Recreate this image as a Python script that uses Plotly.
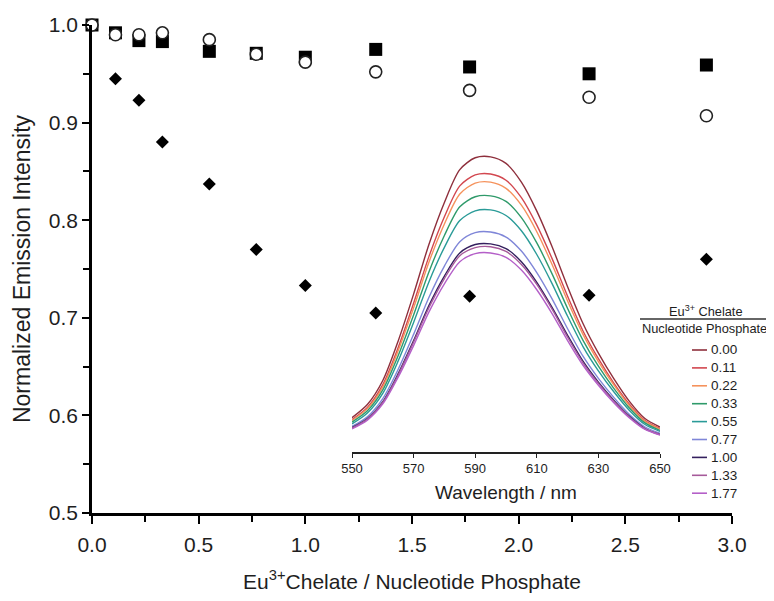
import plotly.graph_objects as go

# ---------------- main data ----------------
ratio = [0.00, 0.11, 0.22, 0.33, 0.55, 0.77, 1.00, 1.33, 1.77, 2.33, 2.88]
squares = [1.000, 0.992, 0.984, 0.983, 0.973, 0.971, 0.967, 0.975, 0.957, 0.950, 0.959]
circles = [1.000, 0.990, 0.990, 0.992, 0.985, 0.970, 0.962, 0.952, 0.933, 0.926, 0.907]
diamonds = [1.000, 0.945, 0.923, 0.880, 0.837, 0.770, 0.733, 0.705, 0.722, 0.723, 0.760]

# ---------------- inset spectra ----------------
wavelength = [550, 555, 560, 565, 570, 575, 580, 585, 590, 595, 600,
              605, 610, 615, 620, 625, 630, 635, 640, 645, 650]
spec_labels = ["0.00", "0.11", "0.22", "0.33", "0.55", "0.77", "1.00", "1.33", "1.77"]
spec_colors = ["#8e2f3c", "#d2474f", "#f5925c", "#2f9a6a", "#2a9b98",
               "#7f86d8", "#34205e", "#a65a9a", "#b45fc8"]
s000 = [0.110, 0.152, 0.229, 0.356, 0.506, 0.666, 0.800, 0.905, 0.943, 0.946, 0.925,
        0.865, 0.772, 0.657, 0.530, 0.412, 0.317, 0.235, 0.163, 0.108, 0.080]
s011 = [0.104, 0.143, 0.216, 0.335, 0.477, 0.627, 0.754, 0.853, 0.888, 0.891, 0.871,
        0.815, 0.727, 0.619, 0.499, 0.388, 0.299, 0.221, 0.154, 0.102, 0.075]
s022 = [0.101, 0.139, 0.209, 0.325, 0.462, 0.609, 0.731, 0.827, 0.862, 0.865, 0.845,
        0.791, 0.706, 0.600, 0.484, 0.377, 0.290, 0.215, 0.149, 0.099, 0.073]
s033 = [0.096, 0.132, 0.199, 0.309, 0.439, 0.578, 0.694, 0.786, 0.818, 0.821, 0.803,
        0.751, 0.670, 0.570, 0.460, 0.358, 0.275, 0.204, 0.142, 0.094, 0.069]
s055 = [0.090, 0.125, 0.188, 0.292, 0.415, 0.546, 0.656, 0.742, 0.773, 0.776, 0.758,
        0.709, 0.633, 0.539, 0.435, 0.338, 0.260, 0.193, 0.134, 0.089, 0.066]
s077 = [0.082, 0.113, 0.171, 0.265, 0.377, 0.496, 0.596, 0.674, 0.703, 0.705, 0.689,
        0.644, 0.575, 0.490, 0.395, 0.307, 0.236, 0.175, 0.121, 0.081, 0.060]
s100 = [0.078, 0.107, 0.161, 0.251, 0.357, 0.470, 0.564, 0.638, 0.665, 0.667, 0.652,
        0.610, 0.544, 0.463, 0.374, 0.291, 0.224, 0.166, 0.115, 0.076, 0.056]
s133 = [0.077, 0.106, 0.159, 0.247, 0.352, 0.463, 0.556, 0.629, 0.655, 0.658, 0.643,
        0.601, 0.537, 0.457, 0.368, 0.286, 0.220, 0.163, 0.113, 0.075, 0.056]
s177 = [0.074, 0.102, 0.154, 0.240, 0.341, 0.449, 0.539, 0.610, 0.636, 0.638, 0.624,
        0.583, 0.520, 0.443, 0.357, 0.278, 0.214, 0.158, 0.110, 0.073, 0.054]
spectra = [s000, s011, s022, s033, s055, s077, s100, s133, s177]

FONT = "Liberation Sans, Arial, sans-serif"
TXT = "#1e1e1e"

fig = go.Figure()

# main scatter
fig.add_trace(go.Scatter(x=ratio, y=diamonds, mode="markers", cliponaxis=False,
                         marker=dict(symbol="diamond", size=10, color="black"),
                         showlegend=False))
fig.add_trace(go.Scatter(x=ratio, y=squares, mode="markers", cliponaxis=False,
                         marker=dict(symbol="square", size=13, color="black"),
                         showlegend=False))
fig.add_trace(go.Scatter(x=ratio, y=circles, mode="markers", cliponaxis=False,
                         marker=dict(symbol="circle", size=12, color="white",
                                     line=dict(color="#222", width=1.6)),
                         showlegend=False))

# inset spectra
for lab, col, s in zip(spec_labels, spec_colors, spectra):
    fig.add_trace(go.Scatter(x=wavelength, y=s, mode="lines", name=lab,
                             line=dict(color=col, width=1.4, shape="spline", smoothing=0.8),
                             xaxis="x2", yaxis="y2", showlegend=False))

# page geometry (the page body adds an 8 px offset)
OFF = 8
W, H = 774 - OFF, 601 - OFF
PL, PT, PW, PH = 92, 25, 640, 488          # plot area in page pixels
L, T = PL - OFF, PT - OFF
R, B = W - L - PW, H - T - PH


def px(x):
    return (x - PL) / PW


def py(y):
    return (PT + PH - y) / PH


shapes = []
annotations = []
LFS = 12.8
annotations.append(dict(x=px(706), y=py(311), xref="paper", yref="paper",
                        text="Eu<sup>3+</sup> Chelate", showarrow=False,
                        font=dict(family=FONT, size=LFS, color=TXT),
                        xanchor="center", yanchor="middle"))
shapes.append(dict(type="line", xref="paper", yref="paper",
                   x0=px(640), x1=px(773), y0=py(319), y1=py(319),
                   line=dict(color="#333", width=1.3)))
annotations.append(dict(x=px(704), y=py(328), xref="paper", yref="paper",
                        text="Nucleotide Phosphate", showarrow=False,
                        font=dict(family=FONT, size=LFS, color=TXT),
                        xanchor="center", yanchor="middle"))
for i, (lab, col) in enumerate(zip(spec_labels, spec_colors)):
    yy = 350 + 17.9 * i
    shapes.append(dict(type="line", xref="paper", yref="paper",
                       x0=px(692), x1=px(707), y0=py(yy), y1=py(yy),
                       line=dict(color=col, width=1.6)))
    annotations.append(dict(x=px(709), y=py(yy), xref="paper", yref="paper",
                            text=lab, showarrow=False,
                            font=dict(family=FONT, size=13.5, color=TXT),
                            xanchor="left", yanchor="middle"))

fig.update_layout(
    width=W, height=H,
    margin=dict(l=L, r=R, t=T, b=B, autoexpand=False),
    paper_bgcolor="white", plot_bgcolor="rgba(0,0,0,0)",
    font=dict(family=FONT, color=TXT),
    xaxis=dict(range=[0, 3], domain=[0, 1], dtick=0.5, tickformat=".1f",
               showline=True, linecolor="black", linewidth=2.5,
               ticks="outside", ticklen=8, tickwidth=2.2, tickcolor="black",
               minor=dict(dtick=0.25, ticks="outside", ticklen=6, tickwidth=2, tickcolor="black"),
               showgrid=False, zeroline=False, ticklabelstandoff=3,
               tickfont=dict(size=21, color=TXT),
               title=dict(text="Eu<sup>3+</sup>Chelate / Nucleotide Phosphate",
                          font=dict(size=21, color=TXT), standoff=20)),
    yaxis=dict(range=[0.5, 1.0], domain=[0, 1], dtick=0.1, tickformat=".1f",
               showline=True, linecolor="black", linewidth=2.5,
               ticks="outside", ticklen=7, tickwidth=2.2, tickcolor="black",
               minor=dict(dtick=0.05, ticks="outside", ticklen=6, tickwidth=2, tickcolor="black"),
               showgrid=False, zeroline=False,
               tickfont=dict(size=21, color=TXT),
               title=dict(text="Normalized Emission Intensity",
                          font=dict(size=23, color=TXT), standoff=12)),
    xaxis2=dict(range=[550, 650], domain=[px(352), px(660)], anchor="y2",
                tickvals=[550, 570, 590, 610, 630, 650],
                showline=True, linecolor="#222", linewidth=1.5,
                ticks="outside", ticklen=4, tickwidth=1.3, tickcolor="#222",
                showgrid=False, zeroline=False,
                tickfont=dict(size=13, color=TXT),
                title=dict(text="Wavelength / nm", font=dict(size=19, color=TXT), standoff=10)),
    yaxis2=dict(range=[0, 1], domain=[py(452), py(140)], anchor="x2",
                visible=False, showgrid=False, zeroline=False),
    shapes=shapes,
    annotations=annotations,
    showlegend=False,
)

fig.write_html("out.html")
